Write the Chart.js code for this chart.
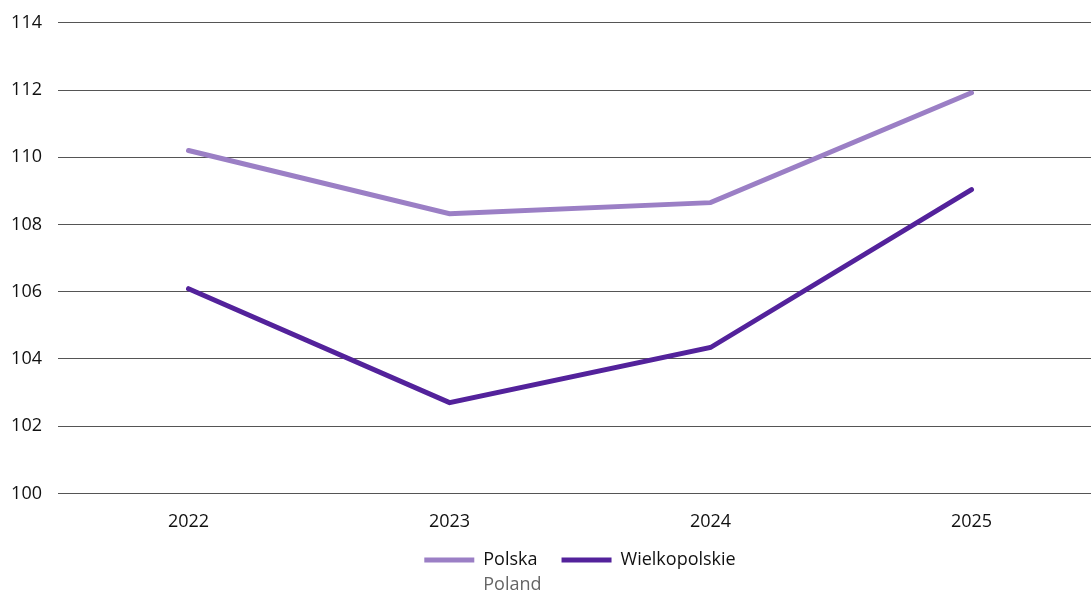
<!DOCTYPE html>
<html>
<head>
<meta charset="utf-8">
<script src="https://cdn.jsdelivr.net/npm/chart.js@4/dist/chart.umd.min.js"></script>
<style>
  html, body { margin: 0; padding: 0; background: #fff; overflow: hidden; }
  #wrap { width: 1102px; height: 597px; position: relative; margin-top: -4px; }
</style>
</head>
<body>
<div id="wrap"><canvas id="myChart"></canvas></div>
<script>
const years = ['2022', '2023', '2024', '2025'];
const polska = [110.2, 108.32, 108.65, 111.92];
const wielkopolskie = [106.09, 102.7, 104.34, 109.04];
const yTicks = [100, 102, 104, 106, 108, 110, 112, 114];

Chart.defaults.font.family = '"Open Sans", sans-serif';
Chart.defaults.font.size = 18;
Chart.defaults.color = '#111';

// legend centred under the plot area, sitting a little lower
const legendPlace = {
  id: 'legendPlace',
  afterLayout(chart) {
    const legend = chart.legend;
    legend.left = chart.chartArea.left;
    legend.top = 531;
  }
};

// the grey "Poland" line under the first legend label
const subLabel = {
  id: 'subLabel',
  afterDraw(chart) {
    const legend = chart.legend;
    if (!legend || !legend.legendHitBoxes.length) return;
    const box = legend.legendHitBoxes[0];
    const ctx = chart.ctx;
    ctx.save();
    ctx.font = '18px "Open Sans", sans-serif';
    const w = ctx.measureText('Polska').width;
    ctx.fillStyle = '#666';
    ctx.textBaseline = 'middle';
    ctx.textAlign = 'left';
    ctx.fillText('Poland', box.left + box.width - w, box.top + box.height / 2 + 25);
    ctx.restore();
  }
};

const data = {
  labels: years,
  datasets: [{
    label: 'Polska',
    data: polska,
    borderColor: '#9b7fc5',
    backgroundColor: '#9b7fc5',
    borderWidth: 5,
    borderCapStyle: 'round',
    pointRadius: 0,
    tension: 0
  }, {
    label: 'Wielkopolskie',
    data: wielkopolskie,
    borderColor: '#53229b',
    backgroundColor: '#53229b',
    borderWidth: 5,
    borderCapStyle: 'round',
    pointRadius: 0,
    tension: 0
  }]
};

const config = {
  type: 'line',
  data: data,
  options: {
    responsive: true,
    maintainAspectRatio: false,
    animation: false,
    layout: {
      autoPadding: false,
      padding: { top: 18, bottom: -10, left: 0, right: 0 }
    },
    scales: {
      x: {
        offset: true,
        grid: { display: false, drawTicks: false },
        border: { display: false },
        ticks: { padding: 18 }
      },
      y: {
        min: 100,
        max: 114,
        afterBuildTicks(axis) {
          axis.ticks = yTicks.map(v => ({ value: v }));
        },
        afterFit(axis) {
          axis.width = 58;
        },
        grid: { color: '#555', lineWidth: 1, drawTicks: false },
        border: { display: false },
        ticks: { padding: 16 }
      }
    },
    plugins: {
      legend: {
        position: 'bottom',
        labels: {
          usePointStyle: true,
          pointStyle: 'line',
          pointStyleWidth: 50,
          padding: 24,
          color: '#111'
        }
      },
      tooltip: { enabled: false }
    }
  },
  plugins: [legendPlace, subLabel]
};

const myChart = new Chart(document.getElementById('myChart'), config);
</script>
</body>
</html>
